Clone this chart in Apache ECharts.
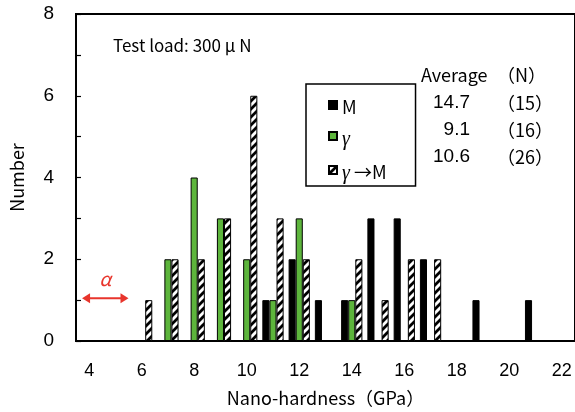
<!DOCTYPE html>
<html>
<head>
<meta charset="utf-8">
<script src="https://cdn.jsdelivr.net/npm/echarts@6/dist/echarts.min.js"></script>
<style>
  html, body { margin: 0; padding: 0; background: #fff; }
  #chart { width: 575px; height: 412px; }
</style>
</head>
<body>
<div id="chart"></div>
<script>
// Hardness bins (GPa) and number of indents in each bin
const hardnessBins = ['4','5','6','7','8','9','10','11','12','13','14','15','16','17','18','19','20','21','22'];
const countM      = [0,0,0,0,0,0,0,1,2,1,1,3,3,2,0,1,0,1,0];
const countGamma  = [0,0,0,2,4,3,2,1,3,0,1,0,0,0,0,0,0,0,0];
const countGammaM = [0,0,1,2,2,3,6,3,2,0,2,1,2,2,0,0,0,0,0];

const seriesNames = ['M', 'γ', 'γ →M'];
const averages = ['14.7', '9.1', '10.6'];
const sampleN = ['（15）', '（16）', '（26）'];

const textFont = '"Noto Sans CJK JP", "Liberation Sans", sans-serif';
const numFont = '"Liberation Sans", Arial, sans-serif';

// diagonal hatch fill for the γ→M bars
const hatch = document.createElement('canvas');
hatch.width = 8; hatch.height = 8;
(function () {
  const c = hatch.getContext('2d');
  c.fillStyle = '#fff';
  c.fillRect(0, 0, 8, 8);
  c.strokeStyle = '#000';
  c.lineWidth = 2.8;
  c.beginPath();
  c.moveTo(-4, 4); c.lineTo(4, -4);
  c.moveTo(0, 8); c.lineTo(8, 0);
  c.moveTo(4, 12); c.lineTo(12, 4);
  c.stroke();
})();

const nz = arr => arr.map(v => (v === 0 ? '-' : v));

const chart = echarts.init(document.getElementById('chart'), null, { renderer: 'canvas' });

const barCommon = {
  type: 'bar',
  barWidth: '27%',
  barGap: '0%',
  animation: false
};

chart.setOption({
  backgroundColor: '#fff',
  animation: false,
  grid: {
    left: 73, top: 14, right: -2, bottom: 70,
    show: true, borderColor: '#000', borderWidth: 2, backgroundColor: 'transparent'
  },
  legend: {
    orient: 'vertical',
    left: 306, top: 84,
    padding: [10, 29, 2, 22],
    borderColor: '#000', borderWidth: 1.5,
    itemWidth: 8, itemHeight: 8, itemGap: 9,
    icon: 'rect',
    formatter: name => name.replace('γ', '{g|γ}'),
    textStyle: {
      fontFamily: textFont, fontSize: 18, lineHeight: 18, color: '#000', padding: [4, 0, 0, 0],
      rich: {
        g: { fontFamily: '"Liberation Serif", serif', fontStyle: 'italic', fontSize: 20, lineHeight: 18, padding: [4, 0, 0, 0] }
      }
    },
    data: seriesNames
  },
  xAxis: {
    type: 'category',
    data: hardnessBins,
    axisLine: { lineStyle: { color: '#000', width: 2 } },
    axisTick: { inside: true, length: 4, interval: 0, lineStyle: { color: '#000', width: 1.2 } },
    axisLabel: { interval: 1, color: '#000', fontFamily: numFont, fontSize: 18, margin: 21 },
    name: 'Nano-hardness（GPa）',
    nameLocation: 'middle',
    nameGap: 48,
    nameTextStyle: { fontFamily: textFont, fontSize: 18, color: '#000' }
  },
  yAxis: {
    type: 'value',
    min: 0, max: 8, interval: 1,
    splitLine: { show: false },
    axisLine: { show: true, lineStyle: { color: '#000', width: 2 } },
    axisTick: { show: true, inside: true, length: 5, lineStyle: { color: '#000', width: 1.2 } },
    axisLabel: {
      color: '#000', fontFamily: numFont, fontSize: 19, margin: 22,
      formatter: v => (v % 2 === 0 ? String(v) : '')
    },
    name: 'Number',
    nameLocation: 'middle',
    nameGap: 50,
    nameTextStyle: { fontFamily: textFont, fontSize: 18, color: '#000' }
  },
  series: [
    Object.assign({}, barCommon, {
      name: seriesNames[0],
      data: nz(countM),
      itemStyle: { color: '#000', borderColor: '#000', borderWidth: 1 }
    }),
    Object.assign({}, barCommon, {
      name: seriesNames[1],
      data: nz(countGamma),
      itemStyle: { color: '#5db53c', borderColor: '#000', borderWidth: 1 }
    }),
    Object.assign({}, barCommon, {
      name: seriesNames[2],
      data: nz(countGammaM),
      itemStyle: { color: { image: hatch, repeat: 'repeat' }, borderColor: '#000', borderWidth: 1 }
    })
  ]
});

// annotations: load note, α range arrow and the average table
const cx = i => chart.convertToPixel({ xAxisIndex: 0 }, i);
const cy = v => chart.convertToPixel({ yAxisIndex: 0 }, v);
const band = cx(1) - cx(0);
const arrowL = cx(0) - band * 0.27;
const arrowR = cx(1) + band / 2;
const arrowY = cy(1) - 2;
const red = '#e8352c';

const graphics = [
  {
    type: 'text', left: 113, top: 37,
    style: { text: 'Test load: 300 μ N', font: '17px ' + textFont, fill: '#000' }
  },
  {
    type: 'line',
    shape: { x1: arrowL + 6, y1: arrowY, x2: arrowR - 6, y2: arrowY },
    style: { stroke: red, lineWidth: 2 }
  },
  {
    type: 'polygon',
    shape: { points: [[arrowL, arrowY], [arrowL + 8, arrowY - 5], [arrowL + 8, arrowY + 5]] },
    style: { fill: red }
  },
  {
    type: 'polygon',
    shape: { points: [[arrowR, arrowY], [arrowR - 8, arrowY - 5], [arrowR - 8, arrowY + 5]] },
    style: { fill: red }
  },
  {
    type: 'text', x: (arrowL + arrowR) / 2, y: arrowY - 19,
    style: { text: 'α', font: 'italic 19px ' + textFont, fill: red, align: 'center', verticalAlign: 'middle' }
  },
  {
    type: 'text', x: 421, y: 75,
    style: { text: 'Average', font: '18px ' + textFont, fill: '#000', verticalAlign: 'middle' }
  },
  {
    type: 'text', x: 497, y: 75,
    style: { text: '（N）', font: '18px ' + textFont, fill: '#000', verticalAlign: 'middle' }
  }
];
averages.forEach((a, i) => {
  const y = 103 + i * 27;
  graphics.push({
    type: 'text', x: 470, y: y,
    style: { text: a, font: '19px ' + numFont, fill: '#000', align: 'right', verticalAlign: 'middle' }
  });
  graphics.push({
    type: 'text', x: 497, y: y,
    style: { text: sampleN[i], font: '18px ' + textFont, fill: '#000', verticalAlign: 'middle' }
  });
});
chart.setOption({ graphic: graphics });
</script>
</body>
</html>
